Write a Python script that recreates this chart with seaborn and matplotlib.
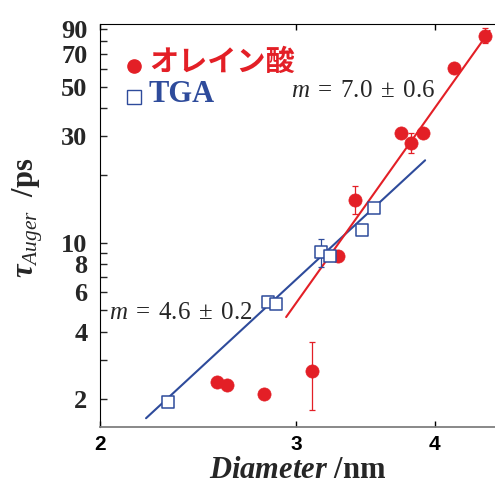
import numpy as np
import pandas as pd
import matplotlib
matplotlib.use("Agg")
import matplotlib.pyplot as plt
from matplotlib.lines import Line2D
from matplotlib.ticker import FixedLocator, FixedFormatter, NullLocator
import seaborn as sns

# oleic acid (red circles)
ole_d = [2.55, 2.60, 2.81, 3.10, 3.27, 3.39, 3.73, 3.81, 3.90, 4.16, 4.44]
ole_tau = [2.39, 2.30, 2.10, 2.68, 8.75, 15.6, 31.0, 28.0, 30.9, 60.4, 84.0]
ole_lo = [0, 0, 0, 0.90, 0, 2.2, 0, 2.8, 0, 0, 6.0]
ole_hi = [0, 0, 0, 0.92, 0, 2.3, 0, 3.0, 0, 0, 7.0]

# TGA (blue open squares)
tga_d = [2.30, 2.83, 2.88, 3.16, 3.22, 3.44, 3.53]
tga_tau = [1.93, 5.41, 5.30, 9.11, 8.69, 11.4, 14.3]
tga_lo = [0, 0, 0, 1.30, 0, 0, 0]
tga_hi = [0, 0.35, 0, 1.25, 0, 0, 0]

# power law fits  tau = tau0 * (d / d0) ** m
fit_red = dict(m=7.0, d0=2.94, tau0=4.65, d1=4.48)
fit_blue = dict(m=4.6, d0=2.20, tau0=1.64, d1=3.92)

y_ticks = [2, 3, 4, 5, 6, 7, 8, 9, 10, 20, 30, 40, 50, 60, 70, 80, 90]
y_labels = ['2', '', '4', '', '6', '', '8', '', '10', '', '30', '', '50', '', '70', '', '90']
x_ticks = [2, 3, 4]

RED = '#e31f26'
BLUE = '#2e4b9b'

sns.set_style("ticks")
plt.rcParams['font.family'] = ['Liberation Serif', 'DejaVu Sans']
plt.rcParams['mathtext.fontset'] = 'custom'
plt.rcParams['mathtext.rm'] = 'Liberation Serif'
plt.rcParams['mathtext.it'] = 'Liberation Serif:italic'
plt.rcParams['mathtext.bf'] = 'Liberation Serif:bold'
plt.rcParams['mathtext.bfit'] = 'Liberation Serif:italic:bold'

fig = plt.figure(figsize=(4.95, 4.84), dpi=100)
ax = fig.add_axes([0.202, 0.118, 0.798, 0.832])

ole = pd.DataFrame({'d': ole_d, 'tau': ole_tau})
tga = pd.DataFrame({'d': tga_d, 'tau': tga_tau})


def fit_line(f):
    d = np.array([f['d0'], f['d1']])
    return d, f['tau0'] * (d / f['d0']) ** f['m']


d, t = fit_line(fit_blue)
ax.plot(d, t, color=BLUE, lw=1.5, zorder=2)
d, t = fit_line(fit_red)
ax.plot(d, t, color=RED, lw=1.5, zorder=2)

ax.errorbar(ole_d, ole_tau, yerr=[ole_lo, ole_hi], fmt='none', ecolor=RED,
            elinewidth=0.9, capsize=2.5, capthick=0.9, zorder=3)
ax.errorbar(tga_d, tga_tau, yerr=[tga_lo, tga_hi], fmt='none', ecolor=BLUE,
            elinewidth=0.9, capsize=2.5, capthick=0.9, zorder=3)

sns.scatterplot(data=ole, x='d', y='tau', ax=ax, marker='o', s=90,
                color=RED, edgecolor=RED, linewidth=0.5, zorder=4)
sns.scatterplot(data=tga, x='d', y='tau', ax=ax, marker='s', s=75,
                facecolor='white', edgecolor=BLUE, linewidth=1.1, zorder=5)

ax.set_xscale('log')
ax.set_yscale('log')
ax.set_xlim(2, 4.53)
ax.set_ylim(1.5, 95)

ax.xaxis.set_major_locator(FixedLocator(x_ticks))
ax.xaxis.set_major_formatter(FixedFormatter([str(v) for v in x_ticks]))
ax.xaxis.set_minor_locator(NullLocator())
ax.yaxis.set_major_locator(FixedLocator(y_ticks))
ax.yaxis.set_major_formatter(FixedFormatter(y_labels))
ax.yaxis.set_minor_locator(NullLocator())

ax.tick_params(axis='x', direction='in', length=4, width=1, top=True,
               bottom=True, pad=6, colors='black')
ax.tick_params(axis='y', direction='in', length=5, width=1, left=True,
               right=False, pad=9)
for lab in ax.get_xticklabels():
    lab.set_fontfamily('Liberation Sans')
    lab.set_fontweight('bold')
    lab.set_fontsize(15)
for lab in ax.get_yticklabels():
    lab.set_fontfamily('Liberation Serif')
    lab.set_fontweight('bold')
    lab.set_fontsize(19)

ax.spines['right'].set_visible(False)
ax.spines['bottom'].set_color('#7f7f7f')
ax.spines['bottom'].set_linewidth(1.3)
ax.spines['left'].set_color('black')
ax.spines['top'].set_color('black')

ax.set_xlabel(r'$\mathbfit{Diameter}$ /nm', fontsize=22, fontweight='bold',
              labelpad=1)
ax.set_ylabel(r'$\mathbfit{\tau}_{\mathit{Auger}}$  /ps', fontsize=22,
              fontweight='bold')
ax.yaxis.set_label_coords(-0.138, 0.52)

ax.text(0.483, 0.833, r'$m\;=\;7.0\;\pm\;0.6$', transform=ax.transAxes,
        fontsize=18, ha='left', va='center')
ax.text(0.024, 0.284, r'$m\;=\;4.6\;\pm\;0.2$', transform=ax.transAxes,
        fontsize=18, ha='left', va='center')

handles = [
    Line2D([], [], marker='o', ls='none', color=RED, markersize=9.5),
    Line2D([], [], marker='s', ls='none', markerfacecolor='white',
           markeredgecolor=BLUE, markeredgewidth=1, markersize=9.5),
]
leg = ax.legend(handles, ['オレイン酸', 'TGA'], loc='upper left',
                bbox_to_anchor=(0.05, 0.957), frameon=False, handletextpad=0.5,
                handlelength=1.2, labelspacing=0.22, borderaxespad=0)
t0, t1 = leg.get_texts()
t0.set_fontfamily(['Noto Sans CJK JP', 'DejaVu Sans'])
t0.set_fontweight('bold')
t0.set_fontsize(21)
t0.set_color(RED)
t1.set_fontfamily('Liberation Serif')
t1.set_fontweight('bold')
t1.set_fontsize(22)
t1.set_color(BLUE)

fig.savefig('out.png', dpi=100)
